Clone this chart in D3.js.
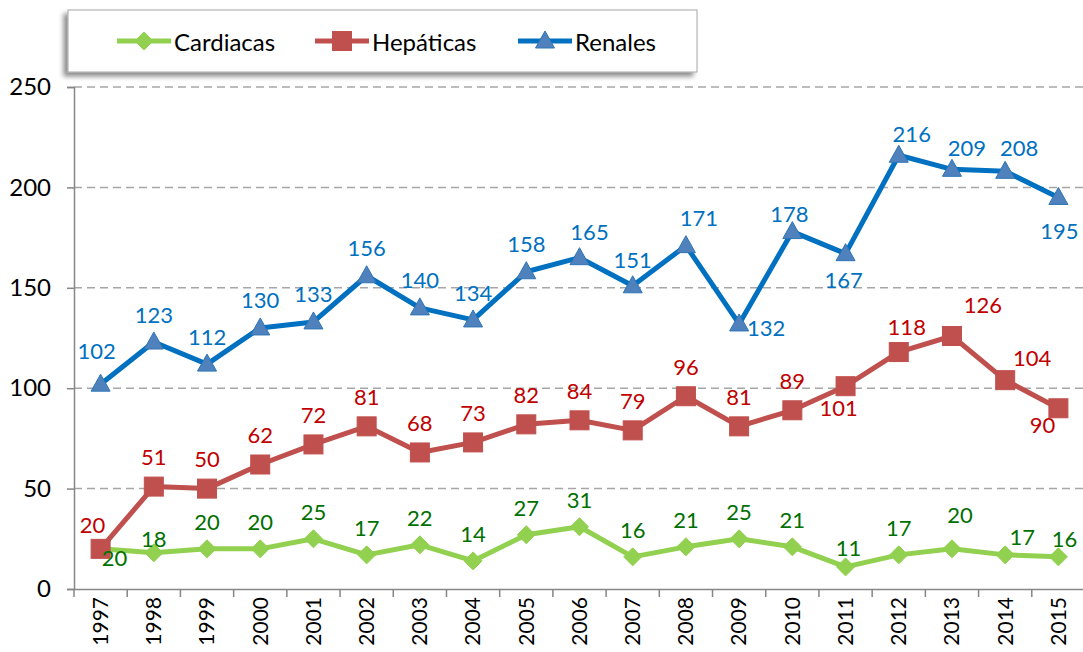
<!DOCTYPE html>
<html lang="es">
<head>
<meta charset="UTF-8">
<title>Trasplantes</title>
<script src="https://cdn.jsdelivr.net/npm/d3@7"></script>
<style>
  body { margin: 0; background: #fff; }
  svg { display: block; font-family: Lato, "Open Sans", sans-serif; }
</style>
</head>
<body>
<div id="chart"></div>
<script>
  const years = ['1997','1998','1999','2000','2001','2002','2003','2004','2005','2006','2007','2008','2009','2010','2011','2012','2013','2014','2015'];
  const cardiacas = [20,18,20,20,25,17,22,14,27,31,16,21,25,21,11,17,20,17,16];
  const hepaticas = [20,51,50,62,72,81,68,73,82,84,79,96,81,89,101,118,126,104,90];
  const renales = [102,123,112,130,133,156,140,134,158,165,151,171,132,178,167,216,209,208,195];
  const yTicks = [0,50,100,150,200,250];

  // label nudges (px) where Excel labels were moved off the default "above" spot
  const nudges = {
    Cardiacas: { 0: [14, 9], 1: [0, -14], 13: [0, -27], 14: [3, -19], 16: [8, -34], 17: [17, -18], 18: [6, -18] },
    'Hepáticas': { 0: [-8, -24], 14: [-7, 21], 15: [8, -26], 16: [31, -31], 17: [27, -23], 18: [-16, 16] },
    Renales: { 0: [-4, -34], 7: [0, -27], 9: [10, -26], 10: [0, -26], 11: [13, -28], 12: [27, 4], 13: [-3, -18], 14: [-2, 26], 15: [13, -22], 16: [15, -22], 17: [14, -24], 18: [1, 33] }
  };

  const series = [
    { name: 'Cardiacas', values: cardiacas, line: '#92D050', fill: '#92D050', stroke: '#92D050', label: '#007000', marker: 'diamond', dy: -27 },
    { name: 'Hepáticas', values: hepaticas, line: '#C0504D', fill: '#C0504D', stroke: '#C0504D', label: '#C00000', marker: 'square', dy: -30 },
    { name: 'Renales', values: renales, line: '#0070C0', fill: '#4F81BD', stroke: '#2E75B6', label: '#0070C0', marker: 'triangle', dy: -28 }
  ];

  const w = 1083, h = 652;
  const m = { left: 74, right: 1085, top: 87, bottom: 589 };

  const svg = d3.select('#chart').append('svg').attr('width', w).attr('height', h);

  const defs = svg.append('defs');
  defs.append('filter').attr('id', 'shadow').attr('x', '-5%').attr('y', '-20%').attr('width', '110%').attr('height', '150%')
    .append('feDropShadow').attr('dx', -4).attr('dy', 4).attr('stdDeviation', 2.5)
    .attr('flood-color', '#000').attr('flood-opacity', 0.45);

  const x = d3.scaleBand().domain(years).range([m.left, m.right]);
  const y = d3.scaleLinear().domain([0, 250]).range([m.bottom, m.top]);

  // grid
  svg.append('g').selectAll('line').data(yTicks.filter(d => d > 0)).enter().append('line')
    .attr('x1', m.left).attr('x2', w).attr('y1', d => y(d)).attr('y2', d => y(d))
    .attr('stroke', '#A6A6A6').attr('stroke-width', 1.5).attr('stroke-dasharray', '8,5');

  // y axis
  const yAxis = d3.axisLeft(y).tickValues(yTicks).tickSize(7).tickPadding(16);
  const gy = svg.append('g').attr('transform', `translate(${m.left},0)`).call(yAxis);
  gy.select('.domain').attr('stroke', '#868686').attr('stroke-width', 1.5);
  gy.selectAll('.tick line').attr('stroke', '#868686').attr('stroke-width', 1.5);
  gy.selectAll('.tick text').attr('font-size', 24).attr('fill', '#000').attr('font-family', 'Lato, sans-serif');

  // x axis
  const xAxis = d3.axisBottom(x).tickSize(0).tickPadding(0);
  const gx = svg.append('g').attr('transform', `translate(0,${m.bottom})`).call(xAxis);
  gx.select('.domain').attr('stroke', '#868686').attr('stroke-width', 1.5);
  gx.selectAll('.tick text')
    .attr('font-size', 21).attr('fill', '#000').attr('font-family', 'Lato, sans-serif')
    .attr('transform', 'rotate(-90)')
    .attr('text-anchor', 'end')
    .attr('x', -8).attr('y', 0).attr('dy', '0.35em');
  svg.append('g').selectAll('line').data(years).enter().append('line')
    .attr('x1', d => x(d)).attr('x2', d => x(d))
    .attr('y1', m.bottom).attr('y2', m.bottom + 8)
    .attr('stroke', '#868686').attr('stroke-width', 1.5);

  const cx = d => x(d) + x.bandwidth() / 2;

  function marker(sel, type) {
    if (type === 'diamond') {
      sel.append('path').attr('d', 'M0,-9L9,0L0,9L-9,0Z');
    } else if (type === 'square') {
      sel.append('rect').attr('x', -9.5).attr('y', -9.5).attr('width', 19).attr('height', 19);
    } else {
      sel.append('path').attr('d', 'M0,-10L9.5,7L-9.5,7Z');
    }
  }

  const line = d3.line().x((d, i) => cx(years[i])).y(d => y(d));

  series.forEach(s => {
    const g = svg.append('g');
    g.append('path').datum(s.values).attr('d', line)
      .attr('fill', 'none').attr('stroke', s.line).attr('stroke-width', 5).attr('stroke-linejoin', 'round');
    const pts = g.selectAll('.pt').data(s.values).enter().append('g')
      .attr('transform', (d, i) => `translate(${cx(years[i])},${y(d)})`)
      .attr('fill', s.fill).attr('stroke', s.stroke).attr('stroke-width', 1);
    pts.each(function () { marker(d3.select(this), s.marker); });
  });

  series.forEach(s => {
    const nd = nudges[s.name];
    svg.append('g').selectAll('text').data(s.values).enter().append('text')
      .attr('x', (d, i) => cx(years[i]) + (nd[i] ? nd[i][0] : 0))
      .attr('y', (d, i) => y(d) + (nd[i] ? nd[i][1] : s.dy))
      .attr('text-anchor', 'middle').attr('dominant-baseline', 'central')
      .attr('font-size', 22).attr('fill', s.label)
      .text(d => d);
  });

  // legend
  const lg = svg.append('g');
  lg.append('rect').attr('x', 68).attr('y', 10).attr('width', 629).attr('height', 62)
    .attr('fill', '#fff').attr('stroke', '#A6A6A6').attr('stroke-width', 1).attr('filter', 'url(#shadow)');
  const legendX = [117, 315, 518];
  series.forEach((s, i) => {
    const item = lg.append('g').attr('transform', `translate(${legendX[i]},41)`);
    item.append('line').attr('x1', 0).attr('x2', 54).attr('stroke', s.line).attr('stroke-width', 5);
    const mk = item.append('g').attr('transform', 'translate(27,0)')
      .attr('fill', s.fill).attr('stroke', s.stroke).attr('stroke-width', 1);
    marker(mk, s.marker);
    item.append('text').attr('x', 57).attr('y', 0).attr('dominant-baseline', 'central')
      .attr('font-size', 24).attr('fill', '#000').text(s.name);
  });
</script>
</body>
</html>
